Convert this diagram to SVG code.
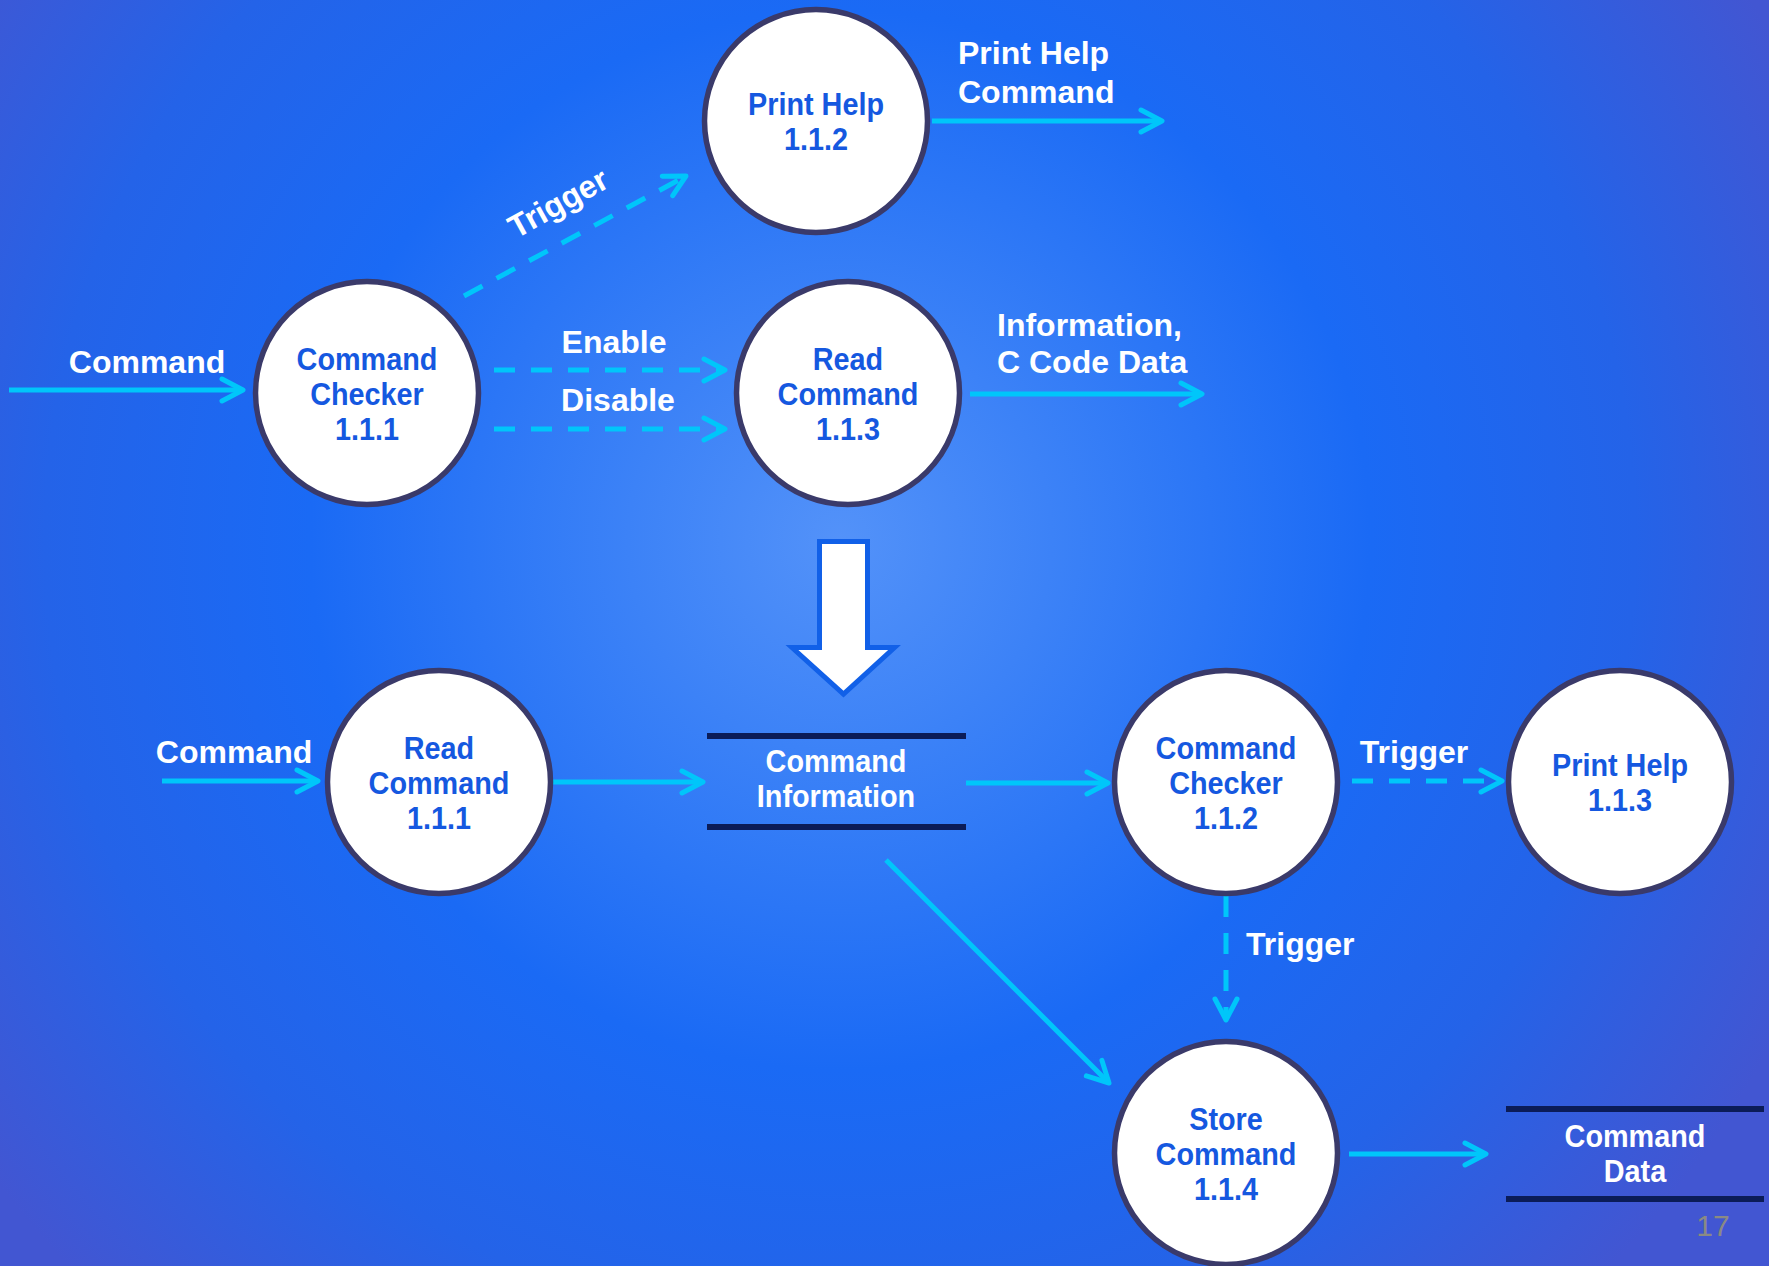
<svg xmlns="http://www.w3.org/2000/svg" width="1769" height="1266" viewBox="0 0 1769 1266">
  <defs>
    <radialGradient id="bg" gradientUnits="userSpaceOnUse" cx="840" cy="540" r="1060">
      <stop offset="0" stop-color="#5392f9"/>
      <stop offset="0.2" stop-color="#3c82f7"/>
      <stop offset="0.5" stop-color="#1a6af5"/>
      <stop offset="0.75" stop-color="#2463e8"/>
      <stop offset="1" stop-color="#4256d2"/>
    </radialGradient>
    <marker id="ah" markerUnits="userSpaceOnUse" markerWidth="40" markerHeight="40" refX="0" refY="0" orient="auto" overflow="visible">
      <path d="M-21,-11 L0,0 L-21,11" fill="none" stroke="#00c6fa" stroke-width="5" stroke-linecap="round" stroke-linejoin="round" stroke-dasharray="none"/>
    </marker>
    <style>
      .flow { fill: none; stroke: #00c6fa; stroke-width: 5; marker-end: url(#ah); }
      .dash { stroke-dasharray: 21 16; }
      .bubble { fill: #ffffff; stroke: #3a3a6a; stroke-width: 5.5; }
      .store { stroke: #0b1c58; stroke-width: 6; }
      .nt { font-family: "Liberation Sans", Arial, sans-serif; font-weight: bold; font-size: 32px; fill: #1558e0; text-anchor: middle; }
      .wl { font-family: "Liberation Sans", Arial, sans-serif; font-weight: bold; font-size: 32px; fill: #ffffff; }
      .mid { text-anchor: middle; }
      .pg { font-family: "Liberation Sans", Arial, sans-serif; font-size: 30px; fill: #8a8a84; text-anchor: middle; }
    </style>
  </defs>

  <!-- background -->
  <rect x="0" y="0" width="1769" height="1266" fill="url(#bg)"/>

  <!-- connectors -->
  <g id="connectors">
    <path class="flow" d="M9,390 L243,390"/>
    <path class="flow dash" d="M464,296 L686,176"/>
    <path class="flow dash" d="M494,370 L725,370"/>
    <path class="flow dash" d="M494,429 L725,429"/>
    <path class="flow" d="M932,121 L1162,121"/>
    <path class="flow" d="M970,394 L1202,394"/>
    <path class="flow" d="M162,781 L318,781"/>
    <path class="flow" d="M553,782 L703,782"/>
    <path class="flow" d="M966,783 L1108,783"/>
    <path class="flow dash" d="M1352,781 L1502,781"/>
    <path class="flow dash" d="M1226,896 L1226,1020"/>
    <path class="flow" d="M886,860 L1109,1083"/>
    <path class="flow" d="M1349,1154 L1486,1154"/>
  </g>

  <!-- connector labels -->
  <g id="labels">
    <text class="wl mid" x="147" y="373">Command</text>
    <text class="wl mid" transform="translate(558,203) rotate(-29)" x="0" y="11">Trigger</text>
    <text class="wl mid" x="614" y="353">Enable</text>
    <text class="wl mid" x="618" y="411">Disable</text>
    <text class="wl" x="958" y="64">Print Help</text>
    <text class="wl" x="958" y="103">Command</text>
    <text class="wl" x="997" y="336">Information,</text>
    <text class="wl" x="997" y="373">C Code Data</text>
    <text class="wl mid" x="234" y="763">Command</text>
    <text class="wl mid" x="1414" y="763">Trigger</text>
    <text class="wl" x="1246" y="955">Trigger</text>
  </g>

  <!-- refinement arrow between the two levels -->
  <g id="refine-arrow">
    <polygon points="819.5,541.5 867.5,541.5 867.5,647.5 894.5,647.5 843.5,694 792,647.5 819.5,647.5" fill="#ffffff" stroke="#1160e8" stroke-width="5" stroke-linejoin="miter"/>
  </g>

  <!-- processes, upper level -->
  <g id="print-help-112" transform="translate(816,121)">
    <circle class="bubble" r="111.5"/>
    <g transform="scale(0.9 1)">
      <text class="nt" y="-6">Print Help</text>
      <text class="nt" y="29">1.1.2</text>
    </g>
  </g>
  <g id="command-checker-111" transform="translate(367,393)">
    <circle class="bubble" r="111.5"/>
    <g transform="scale(0.9 1)">
      <text class="nt" y="-23">Command</text>
      <text class="nt" y="12">Checker</text>
      <text class="nt" y="47">1.1.1</text>
    </g>
  </g>
  <g id="read-command-113" transform="translate(848,393)">
    <circle class="bubble" r="111.5"/>
    <g transform="scale(0.9 1)">
      <text class="nt" y="-23">Read</text>
      <text class="nt" y="12">Command</text>
      <text class="nt" y="47">1.1.3</text>
    </g>
  </g>

  <!-- processes and stores, lower level -->
  <g id="read-command-111" transform="translate(439,782)">
    <circle class="bubble" r="111.5"/>
    <g transform="scale(0.9 1)">
      <text class="nt" y="-23">Read</text>
      <text class="nt" y="12">Command</text>
      <text class="nt" y="47">1.1.1</text>
    </g>
  </g>
  <g id="command-information" transform="translate(836,781)">
    <line class="store" x1="-129" y1="-45" x2="130" y2="-45"/>
    <line class="store" x1="-129" y1="46" x2="130" y2="46"/>
    <g transform="scale(0.9 1)">
      <text class="wl mid" y="-9">Command</text>
      <text class="wl mid" y="26">Information</text>
    </g>
  </g>
  <g id="command-checker-112" transform="translate(1226,782)">
    <circle class="bubble" r="111.5"/>
    <g transform="scale(0.9 1)">
      <text class="nt" y="-23">Command</text>
      <text class="nt" y="12">Checker</text>
      <text class="nt" y="47">1.1.2</text>
    </g>
  </g>
  <g id="print-help-113" transform="translate(1620,782)">
    <circle class="bubble" r="111.5"/>
    <g transform="scale(0.9 1)">
      <text class="nt" y="-6">Print Help</text>
      <text class="nt" y="29">1.1.3</text>
    </g>
  </g>
  <g id="store-command-114" transform="translate(1226,1153)">
    <circle class="bubble" r="111.5"/>
    <g transform="scale(0.9 1)">
      <text class="nt" y="-23">Store</text>
      <text class="nt" y="12">Command</text>
      <text class="nt" y="47">1.1.4</text>
    </g>
  </g>
  <g id="command-data" transform="translate(1635,1154)">
    <line class="store" x1="-129" y1="-45" x2="129" y2="-45"/>
    <line class="store" x1="-129" y1="45" x2="129" y2="45"/>
    <g transform="scale(0.9 1)">
      <text class="wl mid" y="-7">Command</text>
      <text class="wl mid" y="28">Data</text>
    </g>
  </g>

  <!-- page number -->
  <text class="pg" x="1713" y="1236">17</text>
</svg>
